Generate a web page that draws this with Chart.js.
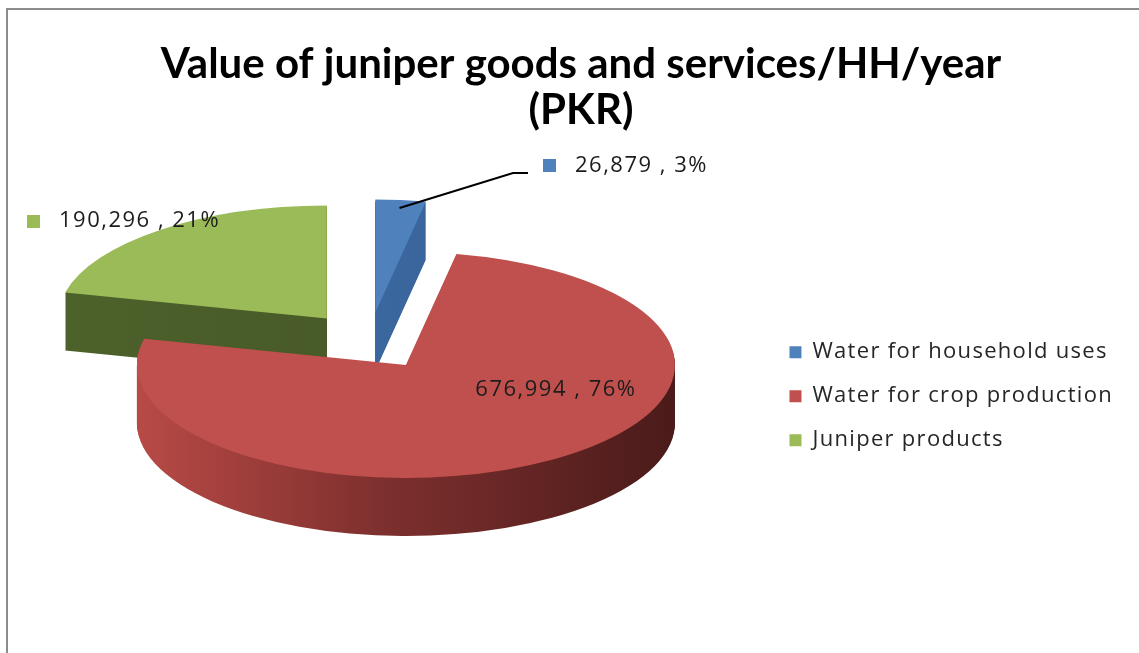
<!DOCTYPE html>
<html><head><meta charset="utf-8">
<script src="https://cdn.jsdelivr.net/npm/chart.js@4/dist/chart.umd.min.js"></script>
<style>
html,body{margin:0;padding:0;background:#fff;}
#wrap{position:relative;width:1139px;height:653px;overflow:hidden;background:#fff;}
#frame{position:absolute;left:6px;top:8px;width:1200px;height:700px;border-left:2px solid #8c8c8c;border-top:2px solid #8c8c8c;}
canvas{position:absolute;left:0;top:0;}
</style></head><body>
<div id="wrap"><div id="frame"></div><canvas id="c" width="1139" height="653"></canvas></div>
<script>
// ---- data ----
const categories = ['Water for household uses', 'Water for crop production', 'Juniper products'];
const values = [26879, 676994, 190296];
const titleLines = ['Value of juniper goods and services/HH/year', '(PKR)'];

// ---- styles ----
const sliceColors = ['#4F81BD', '#C0504D', '#9BBB59'];
const wallStops = [
  [[0, '#3F6FAA'], [1, '#365F93']],
  [[0, '#B84A46'], [0.45, '#7E302E'], [1, '#4A1B1A']],
  [[0, '#4D612B'], [1, '#435525']]
];
const GEO = {cx: 369, cy: 341, tilt: 0.42, depth: 58, explode: 68, radius: 269};
const LABEL_FONT = '22px "Open Sans", sans-serif';
const LABEL_SPACING = '1.5px';
const LEGEND_SPACING = '1.3px';
const TEXT_COLOR = '#1c1c1c';

const total = values.reduce((a, b) => a + b, 0);
const labelTexts = values.map(v => v.toLocaleString('en-US') + ' , ' + Math.round(v / total * 100) + '%');

const spacedLegend = {
  id: 'spacedLegend',
  beforeLayout(chart) {
    const lg = chart.legend;
    if (lg && !lg.__spaced) {
      const wrap = (name) => {
        const orig = lg[name];
        lg[name] = function () {
          const ctx = chart.ctx;
          ctx.save();
          ctx.letterSpacing = LEGEND_SPACING;
          const r = orig.apply(this, arguments);
          ctx.restore();
          return r;
        };
      };
      wrap('fit');
      wrap('draw');
      lg.__spaced = true;
    }
  }
};

const pie3d = {
  id: 'pie3d',
  beforeDatasetsDraw(chart) {
    const ctx = chart.ctx;
    const arcs = chart.getDatasetMeta(0).data;
    const proto = Object.getPrototypeOf(arcs[0]);
    const vertex = (arc) => {
      const half = (arc.startAngle + arc.endAngle) / 2;
      return {x: GEO.cx + Math.cos(half) * GEO.explode, y: GEO.cy + Math.sin(half) * GEO.explode * GEO.tilt, half};
    };
    const place = (arc, dy) => {
      const v = vertex(arc);
      ctx.translate(v.x, v.y + dy);
      ctx.scale(1, GEO.tilt);
      ctx.translate(-arc.x, -arc.y);
    };
    const order = [2, 0, 1];
    order.forEach(i => {
      const arc = arcs[i];
      const grad = ctx.createLinearGradient(arc.x - GEO.radius, 0, arc.x + GEO.radius, 0);
      wallStops[i].forEach(s => grad.addColorStop(s[0], s[1]));
      const wall = Object.create(arc);
      wall.options = Object.assign({}, arc.options, {backgroundColor: grad, borderWidth: 0, offset: 0});
      for (let d = GEO.depth; d >= 1; d--) {
        ctx.save(); place(arc, d); proto.draw.call(wall, ctx); ctx.restore();
      }
      const top = Object.create(arc);
      top.options = Object.assign({}, arc.options, {borderWidth: 0, offset: 0});
      ctx.save(); place(arc, 0); proto.draw.call(top, ctx); ctx.restore();
    });

    // data labels
    ctx.save();
    ctx.font = LABEL_FONT;
    ctx.letterSpacing = LABEL_SPACING;
    ctx.fillStyle = TEXT_COLOR;
    ctx.textBaseline = 'middle';
    // red: inside
    {
      const arc = arcs[1];
      const v = vertex(arc);
      const th = arc.startAngle + (arc.endAngle - arc.startAngle) * 0.37;
      const rho = GEO.radius * 0.6;
      ctx.textAlign = 'center';
      ctx.fillText(labelTexts[1], v.x + Math.cos(th) * rho, v.y + Math.sin(th) * rho * GEO.tilt);
    }
    ctx.textAlign = 'left';
    // blue: callout with leader line
    {
      const arc = arcs[0];
      const v = vertex(arc);
      const sx = v.x + Math.cos(v.half) * GEO.radius * 0.95;
      const sy = v.y + Math.sin(v.half) * GEO.radius * GEO.tilt * 0.93;
      ctx.strokeStyle = '#000';
      ctx.lineWidth = 2;
      ctx.beginPath();
      ctx.moveTo(sx, sy);
      ctx.lineTo(513, 173);
      ctx.lineTo(528, 173);
      ctx.stroke();
      ctx.fillStyle = sliceColors[0];
      ctx.fillRect(543, 159, 13, 13);
      ctx.fillStyle = TEXT_COLOR;
      ctx.fillText(labelTexts[0], 575, 166);
    }
    // green: outside top-left
    {
      ctx.fillStyle = sliceColors[2];
      ctx.fillRect(27, 215, 13, 13);
      ctx.fillStyle = TEXT_COLOR;
      ctx.fillText(labelTexts[2], 59, 221);
    }
    ctx.restore();
    return false;
  }
};

new Chart(document.getElementById('c'), {
  type: 'pie',
  data: {
    labels: categories,
    datasets: [{data: values, backgroundColor: sliceColors, borderWidth: 0, radius: GEO.radius}]
  },
  options: {
    responsive: false,
    animation: false,
    devicePixelRatio: 1,
    events: [],
    layout: {padding: {left: 39, right: 16, top: 10, bottom: 0}},
    plugins: {
      tooltip: {enabled: false},
      title: {
        display: true,
        text: titleLines,
        color: '#000',
        font: {family: 'Lato, "Open Sans", sans-serif', size: 42, weight: 'bold', lineHeight: 1.1},
        padding: {top: 31, bottom: 6}
      },
      legend: {
        position: 'right',
        fullSize: false,
        labels: {
          boxWidth: 12, boxHeight: 12, padding: 22,
          color: '#262626',
          font: {family: '"Open Sans", sans-serif', size: 22}
        }
      }
    }
  },
  plugins: [spacedLegend, pie3d]
});
</script>
</body></html>
